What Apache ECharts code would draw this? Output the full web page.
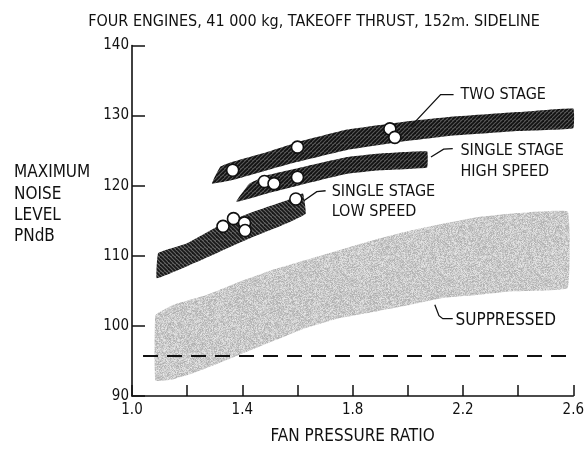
<!DOCTYPE html>
<html>
<head>
<meta charset="utf-8">
<script src="https://cdn.jsdelivr.net/npm/echarts@6/dist/echarts.min.js"></script>
<style>
  html, body { margin: 0; padding: 0; background: #fff; }
  #chart { width: 587px; height: 450px; }
</style>
</head>
<body>
<div id="chart"></div>
<script>
// Maximum noise level versus fan pressure ratio (four engines, 41 000 kg, takeoff thrust, 152 m sideline)

const FONT = '"DejaVu Sans Condensed", "Liberation Sans Narrow", sans-serif';

// Axis tick labels
const xTickLabels = ['1.0', '1.4', '1.8', '2.2', '2.6'];
const yTickLabels = ['90', '100', '110', '120', '130', '140'];

// Two stage fan band: [fan pressure ratio, PNdB]
const twoStageUpper = [[1.32, 122.7], [1.365, 123.4], [1.49, 124.8], [1.6, 126.2], [1.78, 128.0], [2.0, 129.2], [2.15, 129.8], [2.4, 130.5], [2.6, 131.0]];
const twoStageLower = [[1.29, 120.3], [1.365, 120.8], [1.49, 122.2], [1.6, 123.4], [1.78, 125.1], [2.0, 126.4], [2.15, 127.1], [2.4, 127.8], [2.6, 128.2]];

// Single stage, high tip speed band
const highSpeedUpper = [[1.426, 120.3], [1.49, 121.5], [1.6, 122.5], [1.78, 124.1], [1.9, 124.6], [2.07, 124.9]];
const highSpeedLower = [[1.378, 117.7], [1.49, 118.9], [1.6, 120.0], [1.78, 121.7], [1.9, 122.2], [2.07, 122.6]];

// Single stage, low tip speed band
const lowSpeedUpper = [[1.095, 110.4], [1.2, 111.8], [1.32, 114.4], [1.44, 116.3], [1.56, 117.9], [1.62, 118.9]];
const lowSpeedLower = [[1.09, 106.8], [1.2, 108.5], [1.32, 110.6], [1.44, 112.7], [1.56, 114.6], [1.63, 116.0]];

// Suppressed band
const suppressedUpper = [[1.085, 101.5], [1.15, 103.0], [1.27, 104.4], [1.39, 106.3], [1.51, 108.0], [1.63, 109.4], [1.75, 110.8], [1.89, 112.4], [2.01, 113.6], [2.13, 114.6], [2.25, 115.5], [2.37, 116.0], [2.58, 116.3]];
const suppressedLower = [[1.085, 92.2], [1.15, 92.4], [1.21, 93.1], [1.27, 94.0], [1.39, 95.9], [1.51, 97.8], [1.63, 99.7], [1.75, 101.1], [1.89, 102.1], [2.01, 103.0], [2.13, 104.0], [2.25, 104.4], [2.37, 104.9], [2.58, 105.4]];

// Measured points
const twoStagePoints = [[1.365, 122.2], [1.6, 125.5], [1.935, 128.1], [1.953, 126.9]];
const highSpeedPoints = [[1.48, 120.6], [1.515, 120.3], [1.6, 121.2]];
const lowSpeedPoints = [[1.33, 114.2], [1.368, 115.3], [1.408, 114.7], [1.41, 113.6], [1.594, 118.1]];

// Reference level (dashed)
const referenceLevel = [[1.04, 95.7], [2.6, 95.7]];

// Band labels and their leader lines
const labelTexts = ['TWO STAGE', 'SINGLE STAGE\nHIGH SPEED', 'SINGLE STAGE\nLOW SPEED', 'SUPPRESSED'];
const labelSizes = [16, 16, 16, 17];
const labelAnchors = [[2.191, 133.0], [2.191, 123.47], [1.724, 117.68], [2.173, 100.82]];
const leaderLines = [
  [[2.011, 128.47], [2.119, 133.0], [2.166, 133.0]],
  [[2.084, 124.09], [2.130, 125.22], [2.163, 125.29]],
  [[1.623, 117.86], [1.670, 119.14], [1.702, 119.28]],
  [[2.098, 103.01], [2.113, 101.46], [2.127, 101.03], [2.163, 101.03]]
];

// ---- fill textures ----
function hatchPattern(bg, fg, dir) {
  const s = 8, step = 4;
  const c = document.createElement('canvas');
  c.width = s; c.height = s;
  const g = c.getContext('2d');
  g.fillStyle = bg; g.fillRect(0, 0, s, s);
  g.strokeStyle = fg; g.lineWidth = 1.8;
  for (let k = -2 * s; k <= 2 * s; k += step) {
    g.beginPath();
    if (dir > 0) { g.moveTo(k, s); g.lineTo(k + s, 0); }
    else { g.moveTo(k, 0); g.lineTo(k + s, s); }
    g.stroke();
  }
  return { image: c, repeat: 'repeat' };
}

function stipplePattern() {
  const s = 97;
  const c = document.createElement('canvas');
  c.width = s; c.height = s;
  const g = c.getContext('2d');
  const img = g.createImageData(s, s);
  for (let y = 0; y < s; y++) {
    for (let x = 0; x < s; x++) {
      // deterministic hash grain
      const h = Math.abs(Math.sin(x * 12.9898 + y * 78.233) * 43758.5453) % 1;
      const h2 = Math.abs(Math.sin(x * 3.17 + y * 5.71) * 9631.7) % 1;
      let v = 202 + (h - 0.5) * 50 + (h2 - 0.5) * 16;
      v = Math.max(145, Math.min(242, v));
      const i = (y * s + x) * 4;
      img.data[i] = v; img.data[i + 1] = v; img.data[i + 2] = v; img.data[i + 3] = 255;
    }
  }
  g.putImageData(img, 0, 0);
  return { image: c, repeat: 'repeat' };
}

const hatchDark = hatchPattern('#5c5c5c', '#121212', 1);
const hatchLow = hatchPattern('#6a6a6a', '#181818', -1);
const stipple = stipplePattern();

function bandSeries(name, upper, lower, fill, z) {
  return {
    name: name,
    type: 'custom',
    z: z,
    silent: true,
    data: [0],
    renderItem: function (params, api) {
      const pts = upper.map(p => api.coord(p)).concat(lower.slice().reverse().map(p => api.coord(p)));
      return { type: 'polygon', shape: { points: pts, smooth: 0.08 }, style: { fill: fill } };
    }
  };
}

function pointSeries(name, data) {
  return {
    name: name,
    type: 'scatter',
    z: 10,
    data: data,
    symbol: 'circle',
    symbolSize: 12,
    itemStyle: { color: '#ffffff', borderColor: '#111', borderWidth: 1.6, opacity: 1 }
  };
}

const chart = echarts.init(document.getElementById('chart'), null, { renderer: 'canvas' });

chart.setOption({
  backgroundColor: '#ffffff',
  animation: false,
  textStyle: { fontFamily: FONT },
  grid: { left: 132, right: 10, top: 45.5, bottom: 51, containLabel: false },
  xAxis: {
    type: 'value',
    min: 1.0, max: 2.6, interval: 0.2,
    name: 'FAN PRESSURE RATIO',
    nameLocation: 'middle',
    nameGap: 32,
    nameTextStyle: { color: '#111', fontSize: 17, fontFamily: FONT },
    axisLine: { show: true, lineStyle: { color: '#111', width: 1.6 } },
    axisTick: { show: true, inside: true, length: 11, lineStyle: { color: '#111', width: 1.5 } },
    axisLabel: {
      color: '#111', fontSize: 15, fontFamily: FONT, margin: 7,
      formatter: function (v) { const s = v.toFixed(1); return xTickLabels.indexOf(s) >= 0 ? s : ''; }
    },
    splitLine: { show: false }
  },
  yAxis: {
    type: 'value',
    min: 90, max: 140, interval: 10,
    axisLine: { show: true, lineStyle: { color: '#111', width: 1.6 } },
    axisTick: { show: true, inside: true, length: 13, lineStyle: { color: '#111', width: 1.5 } },
    axisLabel: {
      color: '#111', fontSize: 15, fontFamily: FONT, margin: 3,
      formatter: function (v) { const s = String(Math.round(v)); return yTickLabels.indexOf(s) >= 0 ? s : ''; }
    },
    splitLine: { show: false }
  },
  graphic: [
    {
      type: 'text', x: 314, y: 22, silent: true,
      style: { text: 'FOUR ENGINES, 41 000 kg, TAKEOFF THRUST, 152m. SIDELINE', fill: '#111', font: '16px ' + FONT, align: 'center', verticalAlign: 'middle' }
    },
    {
      type: 'text', x: 14, y: 205, silent: true,
      style: { text: 'MAXIMUM\nNOISE\nLEVEL\nPNdB', fill: '#111', font: '17px ' + FONT, lineHeight: 21.3, align: 'left', verticalAlign: 'middle' }
    }
  ],
  series: [
    bandSeries('Suppressed', suppressedUpper, suppressedLower, stipple, 1),
    bandSeries('Single stage low speed', lowSpeedUpper, lowSpeedLower, hatchLow, 2),
    bandSeries('Single stage high speed', highSpeedUpper, highSpeedLower, hatchDark, 2),
    bandSeries('Two stage', twoStageUpper, twoStageLower, hatchDark, 2),
    {
      name: 'Reference level',
      type: 'line',
      z: 5,
      data: referenceLevel,
      symbol: 'none',
      silent: true,
      lineStyle: { color: '#111', width: 2, type: [15, 9] }
    },
    pointSeries('Two stage data', twoStagePoints),
    pointSeries('High speed data', highSpeedPoints),
    pointSeries('Low speed data', lowSpeedPoints),
    {
      name: 'Labels',
      type: 'custom',
      z: 6,
      silent: true,
      data: labelTexts.map((t, i) => i),
      renderItem: function (params, api) {
        const i = params.dataIndex;
        const a = api.coord(labelAnchors[i]);
        return {
          type: 'group',
          children: [
            { type: 'polyline', shape: { points: leaderLines[i].map(p => api.coord(p)) }, style: { stroke: '#111', lineWidth: 1.3, fill: null } },
            { type: 'text', x: a[0], y: a[1], style: { text: labelTexts[i], fill: '#111', font: labelSizes[i] + 'px ' + FONT, lineHeight: 20.5, align: 'left', verticalAlign: 'middle' } }
          ]
        };
      }
    }
  ]
});
</script>
</body>
</html>
